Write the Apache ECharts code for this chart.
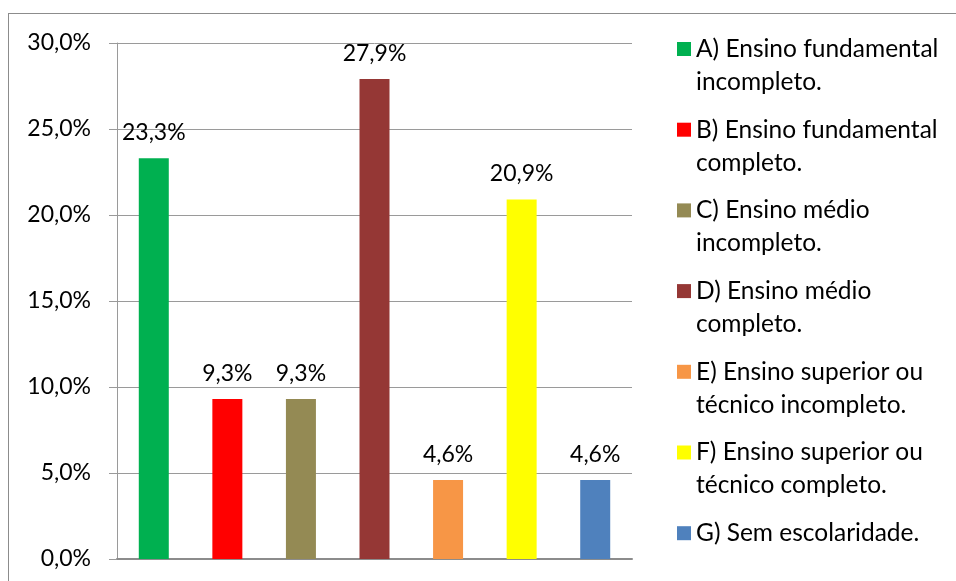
<!DOCTYPE html>
<html>
<head>
<meta charset="utf-8">
<style>
  html, body { margin: 0; padding: 0; background: #fff; }
  #frame { position: absolute; left: 8px; top: 13px; width: 1000px; height: 620px; border: 1px solid #8c8c8c; box-sizing: border-box; }
  #chart { position: absolute; left: 0; top: 0; width: 956px; height: 581px; }
</style>
<script src="https://cdn.jsdelivr.net/npm/echarts@6/dist/echarts.min.js"></script>
</head>
<body>
<div id="frame"></div>
<div id="chart"></div>
<script>
// Escolaridade dos entrevistados (%)
const categories = [
  'A) Ensino fundamental\nincompleto.',
  'B) Ensino fundamental\ncompleto.',
  'C) Ensino médio\nincompleto.',
  'D) Ensino médio\ncompleto.',
  'E) Ensino superior ou\ntécnico incompleto.',
  'F) Ensino superior ou\ntécnico completo.',
  'G) Sem escolaridade.'
];
const values = [23.3, 9.3, 9.3, 27.9, 4.6, 20.9, 4.6];
const colors = ['#00B050', '#FF0000', '#948A54', '#953735', '#F79646', '#FFFF00', '#4F81BD'];
const yTicks = [0, 5, 10, 15, 20, 25, 30];

const fmt = v => v.toFixed(1).replace('.', ',') + '%';
const FONT = 'Lato, "Open Sans", sans-serif';
const FS = 23;
const LEGEND_FS = 24.5;
const LINE_H = 33;

const chart = echarts.init(document.getElementById('chart'), null, { renderer: 'canvas' });

// one series per category so every bar gets its own legend entry;
// a shared stack keeps each bar centred in its slot
const series = categories.map((name, i) => ({
  name: name,
  type: 'bar',
  stack: 'all',
  barWidth: 30,
  itemStyle: { color: colors[i] },
  data: values.map((v, j) => (j === i ? v : null)),
  label: {
    show: true,
    position: 'top',
    distance: 14,
    color: '#000',
    fontFamily: FONT,
    fontSize: FS,
    formatter: p => fmt(p.value)
  }
}));

// each legend entry is its own component so the marker sits on the first
// text line; a blank line above (and below, for one-line names) keeps the
// first line centred on the marker
const legends = categories.map((name, i) => ({
  orient: 'vertical',
  left: 677,
  top: 49 + 80.7 * i - LINE_H * 1.5,
  padding: 0,
  itemWidth: 14,
  itemHeight: 14,
  icon: 'rect',
  selectedMode: false,
  data: [name],
  formatter: n => (n.indexOf('\n') >= 0 ? '\n' + n : '\n' + n + '\n'),
  textStyle: { color: '#000', fontFamily: FONT, fontSize: LEGEND_FS, lineHeight: LINE_H }
}));

chart.setOption({
  animation: false,
  grid: { left: 117, right: 324, top: 43, bottom: 22 },
  xAxis: {
    type: 'category',
    data: categories,
    axisLine: { lineStyle: { color: '#8c8c8c', width: 2 } },
    axisTick: { show: false },
    axisLabel: { show: false },
    splitLine: { show: false }
  },
  yAxis: {
    type: 'value',
    min: yTicks[0],
    max: yTicks[yTicks.length - 1],
    interval: 5,
    axisLine: { show: true, lineStyle: { color: '#9a9a9a', width: 1 } },
    axisTick: { show: true, length: 8, lineStyle: { color: '#9a9a9a' } },
    axisLabel: { margin: 26, color: '#000', fontFamily: FONT, fontSize: FS, formatter: v => fmt(v) },
    splitLine: { lineStyle: { color: '#9a9a9a', width: 1 } }
  },
  legend: legends,
  series: series
});
</script>
</body>
</html>
